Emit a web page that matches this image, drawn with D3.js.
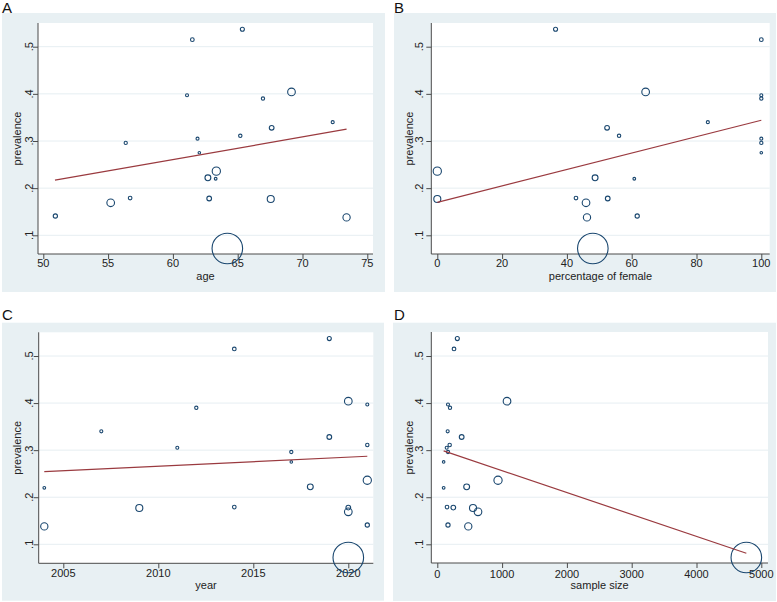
<!DOCTYPE html>
<html>
<head>
<meta charset="utf-8">
<script src="https://cdn.jsdelivr.net/npm/d3@7"></script>
<style>
  html, body { margin: 0; padding: 0; background: #ffffff; }
  svg { display: block; font-family: "Liberation Sans", Arial, sans-serif; }
</style>
</head>
<body>
<svg id="chart" width="777" height="602"></svg>
<script>
// ---- Data (one entry per study) ----
const prevalence = [0.537, 0.515, 0.404, 0.397, 0.390, 0.340, 0.328, 0.311, 0.305, 0.296, 0.275,
                    0.236, 0.222, 0.220, 0.177, 0.179, 0.178, 0.169, 0.141, 0.138, 0.072];
const age        = [65.36, 61.5, 69.15, 61.09, 66.95, 72.33, 67.62, 65.2, 61.9, 56.36, 62.04,
                    63.35, 62.7, 63.3, 67.55, 56.7, 62.8, 55.2, 50.93, 73.4, 64.2];
const female     = [36.5, 100, 64.3, 100, 100, 83.5, 52.4, 56.1, 100, 100, 100,
                    0, 48.7, 60.8, 0, 42.8, 52.6, 45.9, 61.7, 46.2, 48.0];
const year       = [2019, 2014, 2020, 2021, 2012, 2007, 2019, 2021, 2011, 2017, 2017,
                    2021, 2018, 2004, 2009, 2014, 2020, 2020, 2021, 2004, 2020];
const sampleSize = [309, 258, 1076, 165, 196, 160, 376, 191, 145, 165, 98,
                    937, 453, 98, 551, 150, 247, 628, 165, 478, 4769];

// fitted regression lines (endpoints)
const fitAgeX = [50.9, 73.4],   fitAgeY = [0.217, 0.325];
const fitFemX = [0, 100],       fitFemY = [0.170, 0.344];
const fitYearX = [2004, 2021],  fitYearY = [0.2545, 0.287];
const fitSizeX = [98, 4769],    fitSizeY = [0.2985, 0.081];

// ticks
const yTicks = [0.1, 0.2, 0.3, 0.4, 0.5];
const yTickLabels = [".1", ".2", ".3", ".4", ".5"];
const ageTicks = [50, 55, 60, 65, 70, 75];
const femaleTicks = [0, 20, 40, 60, 80, 100];
const yearTicks = [2005, 2010, 2015, 2020];
const sizeTicks = [0, 1000, 2000, 3000, 4000, 5000];

// ---- Layout ----
const BG = "#e8f0f3", NAVY = "#1a476f", MAROON = "#9a3a3f", GRID = "#e6eef2";
const FS = 11;
const svg = d3.select("#chart");

// weight = inverse variance of proportion, marker area proportional to weight
const weight = sampleSize.map((n, i) => n / (prevalence[i] * (1 - prevalence[i])));
const rScale = d3.scaleSqrt().domain([0, d3.max(weight)]).range([0, 15.3]);

const panels = [
  { letter: "A", lx: 2, ly: 13, bg: [2, 13, 383, 279], plot: [38, 373, 23, 254],
    xd: [50, 75], xr: [43.3, 367.3], yr: [235.3, 46.7], xs: age, ticks: ageTicks, title: "age",
    fitX: fitAgeX, fitY: fitAgeY, ylabX: 29.3, ytitX: 16.7, xlabY: 263.3, xtitY: 276 },
  { letter: "B", lx: 394, ly: 13, bg: [394, 13, 382, 279], plot: [431.3, 769.7, 23, 254],
    xd: [0, 100], xr: [437.3, 761.3], yr: [235.3, 46.7], xs: female, ticks: femaleTicks, title: "percentage of female",
    fitX: fitFemX, fitY: fitFemY, ylabX: 419.3, ytitX: 409.3, xlabY: 263.3, xtitY: 276 },
  { letter: "C", lx: 2, ly: 320, bg: [2, 322.7, 382, 278], plot: [38.7, 373.3, 332.3, 563.3],
    xd: [2005, 2020], xr: [63.3, 348.3], yr: [544.3, 356], xs: year, ticks: yearTicks, title: "year",
    fitX: fitYearX, fitY: fitYearY, ylabX: 29.3, ytitX: 16.7, xlabY: 573.3, xtitY: 585.5 },
  { letter: "D", lx: 394, ly: 320, bg: [393, 322.7, 383, 278.3], plot: [431.3, 768, 332, 563],
    xd: [0, 5000], xr: [437.3, 761.3], yr: [544.3, 356], xs: sampleSize, ticks: sizeTicks, title: "sample size",
    fitX: fitSizeX, fitY: fitSizeY, ylabX: 419.3, ytitX: 409.3, xlabY: 574, xtitY: 585.5 }
];

panels.forEach(p => {
  const g = svg.append("g");
  const [px0, px1, py0, py1] = p.plot;
  const x = d3.scaleLinear().domain(p.xd).range(p.xr);
  const y = d3.scaleLinear().domain([0.1, 0.5]).range(p.yr);

  // panel letter
  svg.append("text").attr("x", p.lx).attr("y", p.ly)
    .attr("font-size", 15).attr("fill", "#111").text(p.letter);

  // graph region background
  g.append("rect").attr("x", p.bg[0]).attr("y", p.bg[1])
    .attr("width", p.bg[2]).attr("height", p.bg[3]).attr("fill", BG);
  // plot region
  g.append("rect").attr("x", px0).attr("y", py0)
    .attr("width", px1 - px0).attr("height", py1 - py0).attr("fill", "#ffffff");

  // grid lines
  g.append("g").selectAll("line").data(yTicks).join("line")
    .attr("x1", px0).attr("x2", px1)
    .attr("y1", d => y(d)).attr("y2", d => y(d))
    .attr("stroke", GRID).attr("stroke-width", 1);

  // y axis
  const yAxis = g.append("g").attr("transform", `translate(${px0},0)`)
    .call(d3.axisLeft(y).tickValues(yTicks).tickSize(5).tickFormat(() => ""));
  yAxis.select(".domain").attr("d", `M0,${py0}V${py1}`);
  yAxis.selectAll("line, path").attr("stroke", "#4a4a4a");
  g.append("g").selectAll("text").data(yTicks).join("text")
    .attr("transform", (d) => `translate(${p.ylabX},${y(d)}) rotate(-90)`)
    .attr("text-anchor", "middle").attr("dy", "0.35em")
    .attr("font-size", FS).attr("fill", "#222")
    .text((d, i) => yTickLabels[i]);

  // x axis
  const xAxis = g.append("g").attr("transform", `translate(0,${py1})`)
    .call(d3.axisBottom(x).tickValues(p.ticks).tickSize(5).tickFormat(() => ""));
  xAxis.select(".domain").attr("d", `M${px0},0H${px1}`);
  xAxis.selectAll("line, path").attr("stroke", "#4a4a4a");
  g.append("g").selectAll("text").data(p.ticks).join("text")
    .attr("x", d => x(d)).attr("y", p.xlabY)
    .attr("text-anchor", "middle").attr("dy", "0.35em")
    .attr("font-size", FS).attr("fill", "#222")
    .text(d => d);

  // axis titles
  g.append("text").attr("transform", `translate(${p.ytitX},${(py0 + py1) / 2}) rotate(-90)`)
    .attr("text-anchor", "middle").attr("dy", "0.35em")
    .attr("font-size", FS).attr("fill", "#222").text("prevalence");
  g.append("text").attr("x", (px0 + px1) / 2).attr("y", p.xtitY)
    .attr("text-anchor", "middle").attr("dy", "0.35em")
    .attr("font-size", FS).attr("fill", "#222").text(p.title);

  // markers
  const idx = d3.range(prevalence.length);
  g.append("g").selectAll("circle").data(idx).join("circle")
    .attr("cx", i => x(p.xs[i])).attr("cy", i => y(prevalence[i]))
    .attr("r", i => rScale(weight[i]))
    .attr("fill", "none").attr("stroke", NAVY).attr("stroke-width", 1.1);

  // fitted line
  const line = d3.line().x(d => x(d[0])).y(d => y(d[1]));
  g.append("path").datum(p.fitX.map((v, i) => [v, p.fitY[i]]))
    .attr("d", line).attr("fill", "none").attr("stroke", MAROON).attr("stroke-width", 1.2);
});
</script>
</body>
</html>
